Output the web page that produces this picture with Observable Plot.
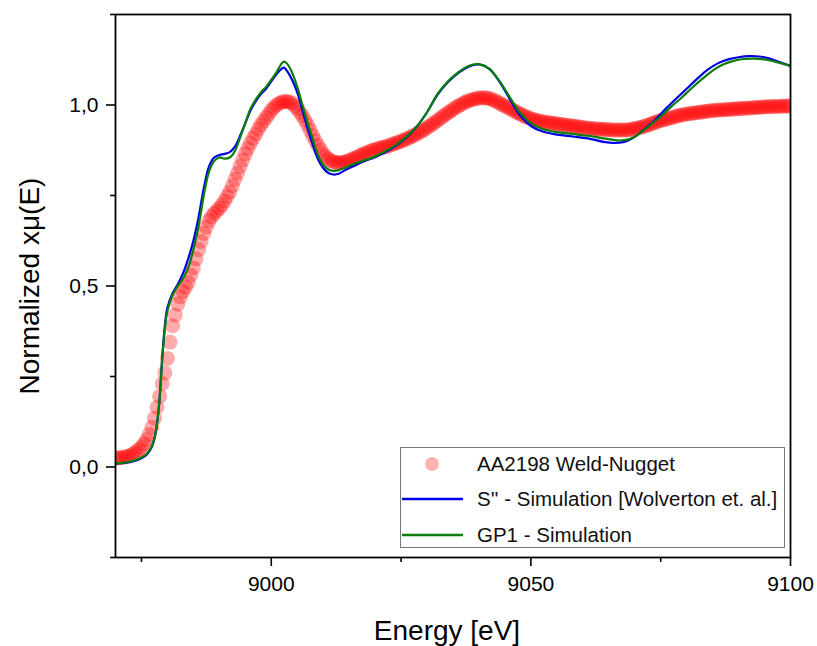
<!DOCTYPE html>
<html>
<head>
<meta charset="utf-8">
<script src="https://cdn.jsdelivr.net/npm/d3@7"></script>
<script src="https://cdn.jsdelivr.net/npm/@observablehq/plot@0.6"></script>
<style>
  body { margin: 0; background: #fff; font-family: "Liberation Sans", Arial, sans-serif; }
  #wrap { position: relative; width: 817px; height: 646px; }
  #legend { position: absolute; left: 400px; top: 447px; width: 385px; height: 101px;
            border: 1px solid #777; background: #fff; box-sizing: border-box; }
  .row { position: absolute; left: 0; height: 30px; display: flex; align-items: center; }
  .row span { position: absolute; left: 76px; font-size: 20.5px; white-space: nowrap; color: #111; }
</style>
</head>
<body>
<div id="wrap"></div>
<script>
// ---- data ----
const xTicks = [9000, 9050, 9100];
const xMinorTicks = [8975, 9025, 9075];
const yTicks = [0, 0.5, 1.0];
const yMinorTicks = [-0.25, 0.25, 0.75, 1.25];
const seriesNames = ["AA2198 Weld-Nugget", "S'' - Simulation [Wolverton et. al.]", "GP1 - Simulation"];

// experimental points [energy eV, normalized mu]
const weldNugget = [
[8970,.025],[8970.5,.025],[8971,.026],[8971.5,.027],[8972,.028],[8972.5,.030],[8973,.033],[8973.5,.037],[8974,.042],[8974.5,.048],
[8975,.055],[8975.5,.064],[8976,.075],[8976.5,.090],[8977,.110],[8977.5,.135],[8978,.165],[8978.5,.195],[8979,.230],[8979.5,.260],
[8980,.300],[8980.5,.345],[8981,.390],[8981.5,.420],[8982,.450],[8982.5,.470],[8983,.485],[8983.5,.497],[8984,.510],[8984.5,.530],
[8985,.550],[8985.5,.575],[8986,.600],[8986.5,.623],[8987,.645],[8987.5,.663],[8988,.680],[8988.5,.691],[8989,.700],[8989.5,.707],
[8990,.715],[8990.5,.724],[8991,.735],[8991.5,.747],[8992,.760],[8992.5,.777],[8993,.795],[8993.5,.812],[8994,.830],[8994.5,.848],
[8995,.865],[8995.5,.880],[8996,.895],[8996.5,.908],[8997,.920],[8997.5,.933],[8998,.945],[8998.5,.955],[8999,.965],[8999.5,.975],
[9000,.985],[9000.5,.993],[9001,1.000],[9001.5,1.004],[9002,1.008],[9002.5,1.010],[9003,1.010],[9003.5,1.008],[9004,1.005],[9004.5,.998],
[9005,.990],[9005.5,.980],[9006,.970],[9006.5,.958],[9007,.945],[9007.5,.930],[9008,.915],[9008.5,.901],[9009,.888],[9009.5,.876],
[9010,.865],[9010.5,.857],[9011,.850],[9011.5,.846],[9012,.843],[9012.5,.841],[9013,.840],[9013.5,.841],[9014,.842],[9014.5,.844],
[9015,.847],[9015.5,.850],[9016,.853],[9016.5,.856],[9017,.860],[9017.5,.863],[9018,.866],[9018.5,.869],[9019,.872],[9019.5,.875],
[9020,.877],[9020.5,.879],[9021,.881],[9021.5,.883],[9022,.885],[9022.5,.887],[9023,.890],[9023.5,.892],[9024,.895],[9024.5,.897],
[9025,.900],[9025.5,.903],[9026,.906],[9026.5,.909],[9027,.913],[9027.5,.916],[9028,.920],[9028.5,.924],[9029,.928],[9029.5,.932],
[9030,.937],[9030.5,.942],[9031,.947],[9031.5,.952],[9032,.957],[9032.5,.962],[9033,.968],[9033.5,.973],[9034,.978],[9034.5,.983],
[9035,.988],[9035.5,.993],[9036,.997],[9036.5,1.001],[9037,1.005],[9037.5,1.009],[9038,1.012],[9038.5,1.014],[9039,1.016],[9039.5,1.018],
[9040,1.019],[9040.5,1.020],[9041,1.020],[9041.5,1.019],[9042,1.018],[9042.5,1.015],[9043,1.012],[9043.5,1.009],[9044,1.005],[9044.5,1.001],
[9045,.997],[9045.5,.994],[9046,.990],[9046.5,.986],[9047,.982],[9047.5,.978],[9048,.975],[9048.5,.971],[9049,.968],[9049.5,.965],
[9050,.962],[9050.5,.960],[9051,.958],[9051.5,.956],[9052,.955],[9052.5,.953],[9053,.952],[9053.5,.951],[9054,.950],[9054.5,.949],
[9055,.948],[9055.5,.947],[9056,.946],[9056.5,.945],[9057,.944],[9057.5,.943],[9058,.942],[9058.5,.941],[9059,.940],[9059.5,.939],
[9060,.938],[9060.5,.937],[9061,.936],[9061.5,.935],[9062,.935],[9062.5,.934],[9063,.934],[9063.5,.933],[9064,.933],[9064.5,.932],
[9065,.932],[9065.5,.931],[9066,.931],[9066.5,.931],[9067,.931],[9067.5,.931],[9068,.931],[9068.5,.931],[9069,.932],[9069.5,.933],
[9070,.935],[9070.5,.936],[9071,.938],[9071.5,.940],[9072,.942],[9072.5,.944],[9073,.947],[9073.5,.950],[9074,.952],[9074.5,.955],
[9075,.957],[9075.5,.959],[9076,.961],[9076.5,.963],[9077,.965],[9077.5,.967],[9078,.969],[9078.5,.971],[9079,.972],[9079.5,.974],
[9080,.975],[9080.5,.976],[9081,.977],[9081.5,.978],[9082,.979],[9082.5,.980],[9083,.981],[9083.5,.982],[9084,.983],[9084.5,.984],
[9085,.985],[9085.5,.985],[9086,.986],[9086.5,.986],[9087,.987],[9087.5,.987],[9088,.988],[9088.5,.988],[9089,.989],[9089.5,.989],
[9090,.990],[9090.5,.990],[9091,.991],[9091.5,.991],[9092,.992],[9092.5,.992],[9093,.993],[9093.5,.993],[9094,.994],[9094.5,.994],
[9095,.995],[9095.5,.995],[9096,.995],[9096.5,.996],[9097,.996],[9097.5,.996],[9098,.996],[9098.5,.997],[9099,.997],[9099.5,.997],
[9100,.997]
];

// S'' simulation (Wolverton et al.)
const sppSim = [
[8970,.010],[8972,.012],[8974,.018],[8975,.024],[8976,.034],[8977,.055],[8977.5,.078],[8978,.12],[8978.5,.19],[8979,.30],
[8979.5,.39],[8980,.44],[8981,.48],[8982,.505],[8983,.535],[8984,.575],[8985,.625],[8986,.69],[8987,.77],[8988,.83],
[8989,.855],[8990,.862],[8991,.865],[8992,.87],[8993,.885],[8994,.915],[8995,.95],[8996,.985],[8997,1.01],[8998,1.03],
[8999,1.045],[9000,1.065],[9001,1.085],[9002,1.10],[9002.5,1.103],[9003,1.095],[9004,1.07],[9005,1.035],[9006,.985],[9007,.935],
[9008,.89],[9009,.85],[9010,.826],[9011,.812],[9012,.808],[9013,.81],[9014,.818],[9016,.832],[9018,.845],[9020,.856],
[9022,.87],[9024,.888],[9026,.91],[9028,.94],[9030,.98],[9032,1.028],[9034,1.063],[9036,1.088],[9038,1.106],[9040,1.112],
[9042,1.10],[9044,1.063],[9046,1.015],[9048,.97],[9050,.942],[9052,.928],[9055,.918],[9058,.913],[9061,.908],[9064,.898],
[9066,.895],[9068,.898],[9070,.912],[9072,.935],[9074,.96],[9076,.99],[9078,1.018],[9080,1.045],[9082,1.072],[9084,1.097],
[9086,1.115],[9088,1.126],[9090,1.132],[9092,1.135],[9094,1.134],[9096,1.128],[9098,1.118],[9100,1.108]
];

// GP1 simulation
const gp1Sim = [
[8970,.010],[8972,.013],[8974,.020],[8975,.026],[8976,.036],[8977,.058],[8977.5,.08],[8978,.12],[8978.5,.19],[8979,.30],
[8979.5,.38],[8980,.43],[8981,.475],[8982,.50],[8983,.52],[8984,.55],[8985,.60],[8986,.665],[8987,.75],[8988,.815],
[8989,.845],[8990,.855],[8991,.852],[8992,.855],[8993,.873],[8994,.91],[8995,.95],[8996,.99],[8997,1.015],[8998,1.035],
[8999,1.05],[9000,1.07],[9001,1.09],[9002,1.115],[9002.5,1.12],[9003,1.115],[9004,1.09],[9005,1.05],[9006,1.00],[9007,.95],
[9008,.905],[9009,.862],[9010,.835],[9011,.822],[9012,.818],[9013,.82],[9014,.826],[9016,.838],[9018,.848],[9020,.858],
[9022,.873],[9024,.89],[9026,.912],[9028,.94],[9030,.98],[9032,1.03],[9034,1.065],[9036,1.09],[9038,1.108],[9040,1.113],
[9042,1.10],[9044,1.065],[9046,1.02],[9048,.977],[9050,.95],[9052,.935],[9055,.925],[9058,.92],[9061,.915],[9064,.908],
[9067,.902],[9069,.906],[9071,.922],[9073,.945],[9075,.968],[9077,.995],[9079,1.02],[9081,1.047],[9083,1.072],[9085,1.095],
[9087,1.112],[9089,1.122],[9091,1.127],[9093,1.128],[9095,1.126],[9097,1.12],[9099,1.112],[9100,1.108]
];

const colors = { red: "#ff0000", blue: "#0000e6", green: "#0a7d0a" };
const commaFmt = d => d.toFixed(1).replace(".", ",");

const chart = Plot.plot({
  width: 817,
  height: 646,
  marginLeft: 115,
  marginRight: 27,
  marginTop: 14,
  marginBottom: 89,
  style: { fontFamily: "'Liberation Sans', Arial, sans-serif", color: "#000", background: "#fff" },
  x: { domain: [8970, 9100] },
  y: { domain: [-0.25, 1.25] },
  marks: [
    Plot.dot(weldNugget, { x: d => d[0], y: d => d[1], r: 7.5, fill: colors.red, fillOpacity: 0.33, stroke: "none", clip: true }),
    Plot.line(sppSim, { x: d => d[0], y: d => d[1], stroke: colors.blue, strokeWidth: 2.2, curve: "catmull-rom", clip: true }),
    Plot.line(gp1Sim, { x: d => d[0], y: d => d[1], stroke: colors.green, strokeWidth: 2.2, curve: "catmull-rom", clip: true }),
    Plot.axisX(xTicks, { tickSize: 9, tickPadding: 10, fontSize: 21, strokeWidth: 1.6, label: null, tickFormat: d => String(d) }),
    Plot.axisX(xMinorTicks, { tickSize: 5, strokeWidth: 1.6, label: null, tickFormat: () => "" }),
    Plot.axisY(yTicks, { tickSize: 9, tickPadding: 8, fontSize: 21, strokeWidth: 1.6, label: null, tickFormat: commaFmt }),
    Plot.axisY(yMinorTicks, { tickSize: 5, strokeWidth: 1.6, label: null, tickFormat: () => "" }),
    Plot.frame({ stroke: "#000", strokeWidth: 1.8 }),
    Plot.text(["Energy [eV]"], { frameAnchor: "bottom", dy: 82, dx: -6, fontSize: 28, fill: "#000" }),
    Plot.text(["Normalized xμ(E)"], { frameAnchor: "left", textAnchor: "middle", dx: -85, rotate: -90, fontSize: 28, fill: "#000" })
  ]
});

const wrap = document.getElementById("wrap");
wrap.appendChild(chart);

// legend
const legend = document.createElement("div");
legend.id = "legend";
const rowsTop = [1, 36, 72];
seriesNames.forEach((name, i) => {
  const row = document.createElement("div");
  row.className = "row";
  row.style.top = rowsTop[i] + "px";
  row.style.width = "100%";
  const svg = d3.create("svg").attr("width", 70).attr("height", 30).style("position", "absolute").style("left", "0px");
  if (i === 0) {
    svg.append("circle").attr("cx", 31).attr("cy", 15).attr("r", 7).attr("fill", colors.red).attr("fill-opacity", 0.3);
  } else {
    svg.append("line").attr("x1", 1).attr("x2", 62).attr("y1", 15).attr("y2", 15)
      .attr("stroke", i === 1 ? colors.blue : colors.green).attr("stroke-width", 2.5);
  }
  row.appendChild(svg.node());
  const span = document.createElement("span");
  span.textContent = name;
  row.appendChild(span);
  legend.appendChild(row);
});
wrap.appendChild(legend);
</script>
</body>
</html>
